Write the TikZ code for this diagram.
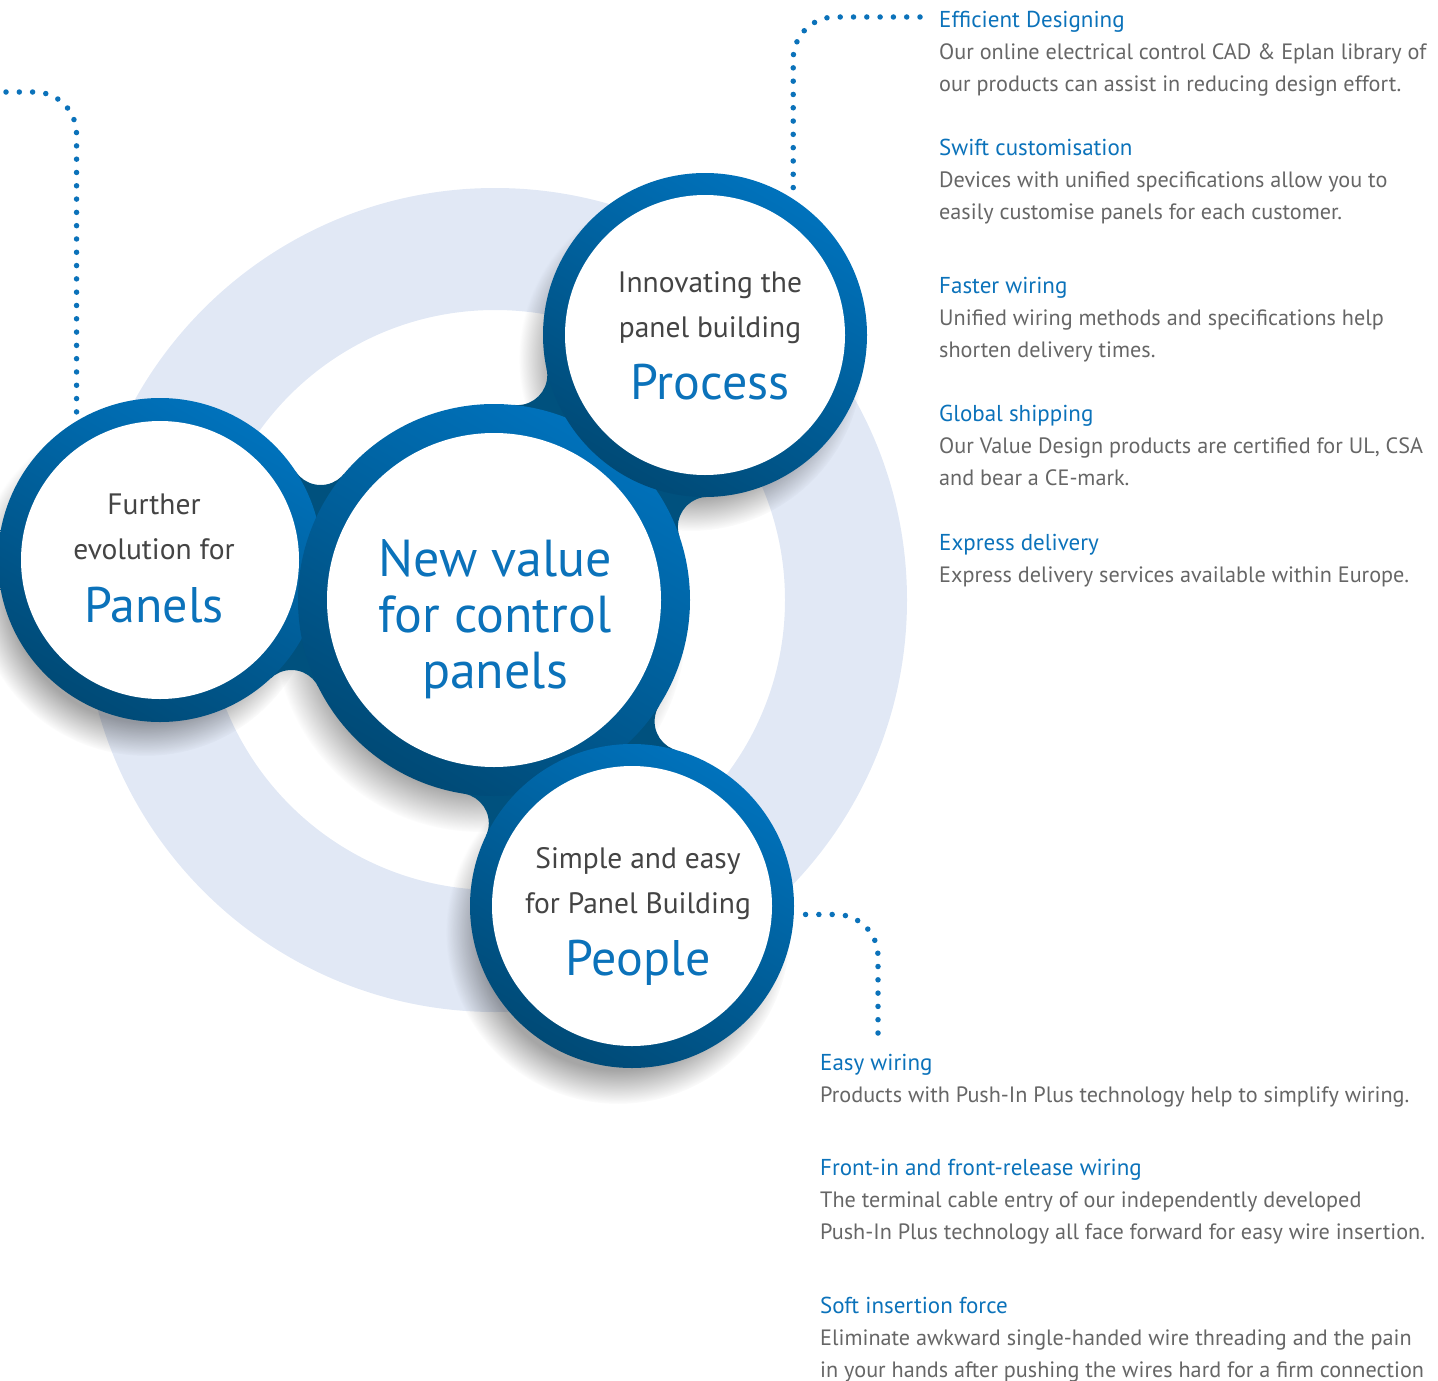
\documentclass[tikz,border=0pt]{standalone}
\usepackage{fontspec}
\setmainfont{PT Sans}
\usetikzlibrary{positioning,fadings}

\definecolor{ringtop}{HTML}{0072BC}
\definecolor{ringbot}{HTML}{004A76}
\definecolor{neckblue}{HTML}{00517E}
\definecolor{haze}{HTML}{E1E8F5}
\definecolor{headblue}{HTML}{0B72BA}
\definecolor{bodygrey}{HTML}{666666}
\definecolor{bubgrey}{HTML}{444444}

\newcommand{\hd}[1]{\strut{\fontsize{23}{32}\selectfont\textcolor{headblue}{#1}}}
\newcommand{\bigword}[1]{{\fontsize{50}{50}\selectfont\color{headblue}#1}}

\begin{document}
\begin{tikzpicture}[x=1pt,y=-1pt,
  ring/.style={top color=ringtop, bottom color=ringbot, shading angle=-30},
  bubble/.style={circle, fill=white, inner sep=0pt, minimum size=280pt, outer sep=22pt},
  bubtext/.style={anchor=north, align=center, inner sep=0pt, text=bubgrey, font={\fontsize{29.5}{45}\selectfont}},
  item/.style={anchor=north west, align=left, inner sep=0pt, text=bodygrey, font={\fontsize{22.2}{32}\selectfont}},
  dotline/.style={draw=headblue, line width=5.5pt, line cap=round, dash pattern=on 0pt off 13.3pt},
  shadow/.style={fill=black, opacity=.35, path fading=circle with fuzzy edge 20 percent}
]
	\useasboundingbox (0,0) rectangle (1438,1381);
	%Centres
	\coordinate (pc) at (160,560);
	\coordinate (cc) at (494,600);
	\coordinate (rc) at (705,335);
	\coordinate (qc) at (632,906);
	%Pale ring
	\fill[haze, even odd rule] (495,600) circle (412) (495,600) circle (290);
	%Shadows
	\fill[shadow] (146,584) circle (172);
	\fill[shadow] (480,626) circle (206);
	\fill[shadow] (691,359) circle (172);
	\fill[shadow] (618,932) circle (172);
	%Necks
	\begin{scope}
		\clip (pc) -- (320.7,455.0) -- (cc) -- (291.4,700.0) -- cycle;
		\fill[neckblue, even odd rule] (-50,-50) rectangle (1500,1500)
			(320.7,455.0) circle (30) (291.4,700.0) circle (30);
	\end{scope}
	\begin{scope}
		\clip (cc) -- (517.3,375.1) -- (rc) -- (707.9,526.9) -- cycle;
		\fill[neckblue, even odd rule] (-50,-50) rectangle (1500,1500)
			(517.3,375.1) circle (30) (707.9,526.9) circle (30);
	\end{scope}
	\begin{scope}
		\clip (cc) -- (684.6,721.4) -- (qc) -- (458.8,823.2) -- cycle;
		\fill[neckblue, even odd rule] (-50,-50) rectangle (1500,1500)
			(684.6,721.4) circle (30) (458.8,823.2) circle (30);
	\end{scope}
	%Rings
	\shade[ring] (pc) circle (162);
	\shade[ring] (cc) circle (196);
	\shade[ring] (rc) circle (162);
	\shade[ring] (qc) circle (162);
	%Bubbles
	\node[bubble, minimum size=278pt, outer sep=23pt] (panels) at (pc) {};
	\node[bubble, minimum size=334pt, outer sep=29pt] (core) at (cc) {};
	\node[bubble] (process) at (rc) {};
	\node[bubble] (people) at (qc) {};
	\node[bubtext] (panelstxt) at (154,482.5) {\strut Further\\evolution for\\[18pt]\bigword{Panels}};
	\node[bubtext, text=headblue, font={\fontsize{52}{56}\selectfont}] (coretxt) at (495,536.8)
		{\strut New value\\for control\\panels};
	\node[bubtext] (processtxt) at (710,260.5) {\strut Innovating the\\panel building\\[17pt]\bigword{Process}};
	\node[bubtext] (peopletxt) at (638,836.5) {\strut Simple and easy\\for Panel Building\\[17pt]\bigword{People}};
	%Connectors
	\coordinate (lefttip) at (6,92);
	\coordinate (effend) at (920,17);
	\coordinate (easyend) at (878,1033);
	\draw[dotline, rounded corners=42pt] (lefttip) -| (panels.121);
	\draw[dotline, rounded corners=42pt] (effend) -| (process.57);
	\draw[dotline, rounded corners=42pt] (easyend) |- (people.-3.5);
	%Texts
	\node[item] (effdes) at (939,4.6) {\hd{Efficient Designing}\\Our online electrical control CAD \& Eplan library of\\our products can assist in reducing design effort.};
	\node[item] (swift) at (939,132.6) {\hd{Swift customisation}\\Devices with unified specifications allow you to\\easily customise panels for each customer.};
	\node[item] (faster) at (939,270.6) {\hd{Faster wiring}\\Unified wiring methods and specifications help\\shorten delivery times.};
	\node[item] (global) at (939,399.1) {\hd{Global shipping}\\Our Value Design products are certified for UL, CSA\\and bear a CE-mark.};
	\node[item] (express) at (939,527.6) {\hd{Express delivery}\\Express delivery services available within Europe.};
	\node[item] (easy) at (820,1047.6) {\hd{Easy wiring}\\Products with Push-In Plus technology help to simplify wiring.};
	\node[item] (front) at (820,1152.6) {\hd{Front-in and front-release wiring}\\The terminal cable entry of our independently developed\\Push-In Plus technology all face forward for easy wire insertion.};
	\node[item] (soft) at (820,1290.9) {\hd{Soft insertion force}\\Eliminate awkward single-handed wire threading and the pain\\in your hands after pushing the wires hard for a firm connection};
\end{tikzpicture}
\end{document}
